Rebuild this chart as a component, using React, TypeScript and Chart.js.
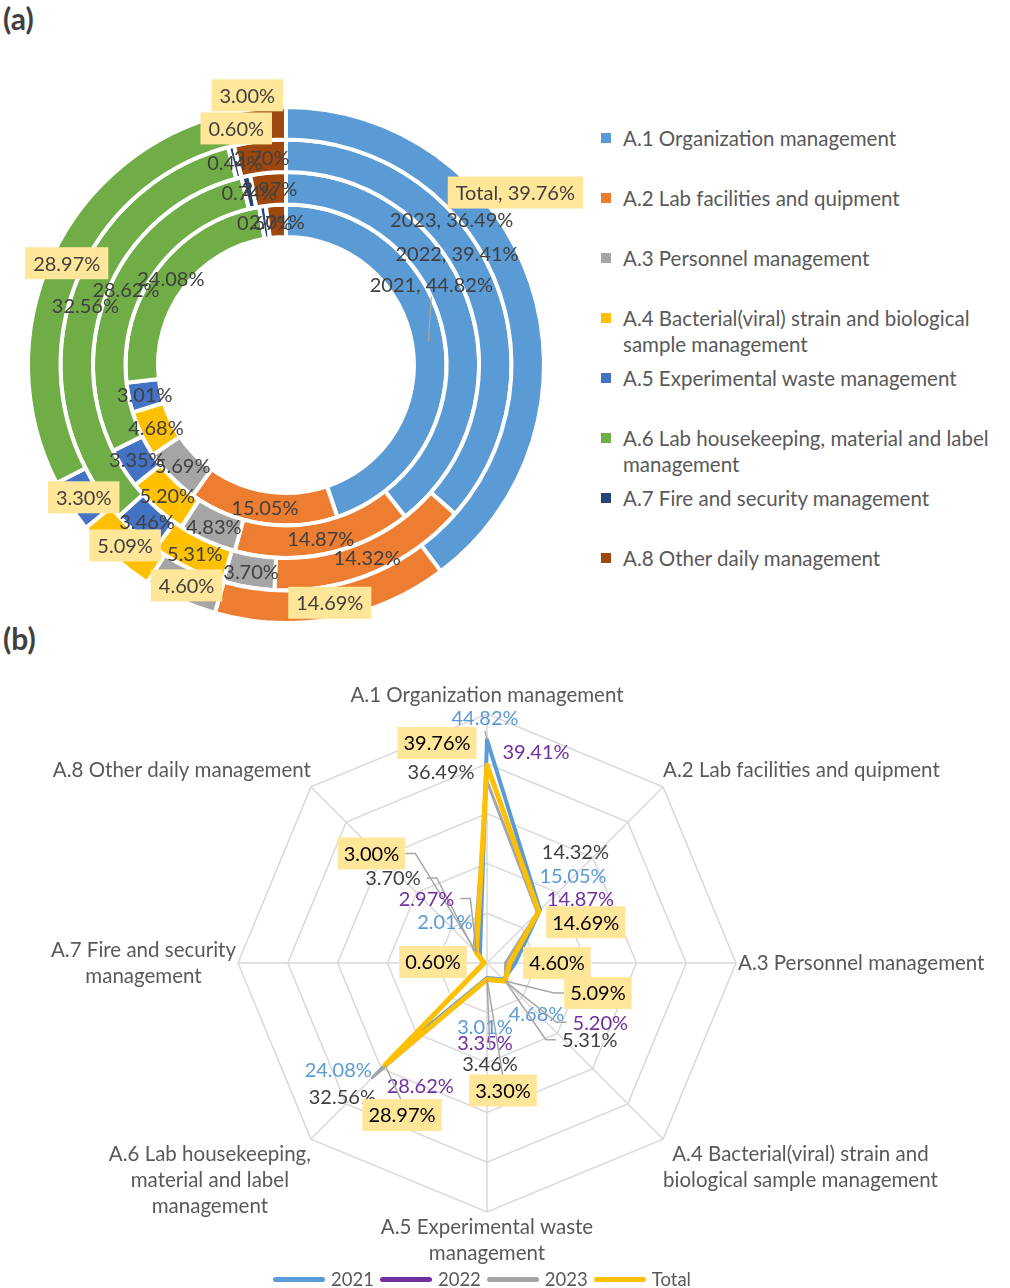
import React, { useEffect, useRef } from "react";
import { Chart, registerables } from "chart.js";

Chart.register(...registerables);

const FONT = "Lato, 'Noto Sans', sans-serif";

// ---------- data ----------
const categoryLegend = [
  ["A.1 Organization management"],
  ["A.2 Lab facilities and quipment"],
  ["A.3 Personnel management"],
  ["A.4 Bacterial(viral) strain and biological", "sample management"],
  ["A.5 Experimental waste management"],
  ["A.6 Lab housekeeping, material and label", "management"],
  ["A.7 Fire and security management"],
  ["A.8 Other daily management"],
];
const radarCategoryLabels = [
  ["A.1 Organization management"],
  ["A.2 Lab facilities and quipment"],
  ["A.3 Personnel management"],
  ["A.4 Bacterial(viral) strain and", "biological sample management"],
  ["A.5 Experimental waste", "management"],
  ["A.6 Lab housekeeping,", "material and label", "management"],
  ["A.7 Fire and security", "management"],
  ["A.8 Other daily management"],
];
const seriesNames = ["2021", "2022", "2023", "Total"];
const values2021 = [44.82, 15.05, 5.69, 4.68, 3.01, 24.08, 0.67, 2.01];
const values2022 = [39.41, 14.87, 4.83, 5.2, 3.35, 28.62, 0.74, 2.97];
const values2023 = [36.49, 14.32, 3.7, 5.31, 3.46, 32.56, 0.44, 3.7];
const valuesTotal = [39.76, 14.69, 4.6, 5.09, 3.3, 28.97, 0.6, 3.0];
const radarMax = 50;
const radarStep = 10;

// ---------- styles ----------
const sliceColors = ["#5B9BD5", "#ED7D31", "#A5A5A5", "#FFC000", "#4472C4", "#70AD47", "#264478", "#9E480E"];
const seriesColors = ["#5B9BD5", "#7030A0", "#A5A5A5", "#FFC000"];
const seriesTextColors = ["#5B9BD5", "#7030A0", "#404040", "#000000"];
const seriesLineWidths = [4, 3, 3, 5];
const BOX_FILL = "#FFE699";
const LABEL_SIZE = 20;
const CAT_SIZE = 20.5;

// doughnut label shifts (from arc centroid), key = series-index
const doughnutLabelShift: Record<string, [number, number]> = {
  "Total-0": [0, -96],
  "2023-0": [-25, -59],
  "2022-0": [4, -54],
  "2021-0": [3, -57],
  "Total-7": [-16, -29],
};

// radar value label layout: series index, category index, offset from point, leader style
type RL = { s: number; i: number; dx: number; dy: number; leader?: "h" | "v" };
const radarLabelLayout: RL[] = [
  { s: 0, i: 0, dx: -2, dy: -22, leader: "v" },
  { s: 1, i: 0, dx: 49, dy: -15 },
  { s: 3, i: 0, dx: -50, dy: -22 },
  { s: 2, i: 0, dx: -46, dy: -10 },
  { s: 2, i: 1, dx: 38, dy: -61 },
  { s: 0, i: 1, dx: 33, dy: -34 },
  { s: 1, i: 1, dx: 41, dy: -12 },
  { s: 3, i: 1, dx: 47, dy: 11 },
  { s: 3, i: 2, dx: 47, dy: 0 },
  { s: 3, i: 3, dx: 93, dy: 12, leader: "h" },
  { s: 0, i: 3, dx: 33, dy: 34 },
  { s: 1, i: 3, dx: 95, dy: 41, leader: "h" },
  { s: 2, i: 3, dx: 84, dy: 58, leader: "h" },
  { s: 0, i: 4, dx: -2, dy: 49 },
  { s: 1, i: 4, dx: -2, dy: 63 },
  { s: 2, i: 4, dx: 3, dy: 83, leader: "v" },
  { s: 3, i: 4, dx: 16, dy: 111, leader: "v" },
  { s: 0, i: 5, dx: -64, dy: 22 },
  { s: 2, i: 5, dx: -30, dy: 19 },
  { s: 1, i: 5, dx: 34, dy: 22 },
  { s: 3, i: 5, dx: 17, dy: 50, leader: "v" },
  { s: 3, i: 6, dx: -51, dy: -1 },
  { s: 3, i: 7, dx: -105, dy: -99, leader: "h" },
  { s: 2, i: 7, dx: -81, dy: -72, leader: "h" },
  { s: 1, i: 7, dx: -50, dy: -54, leader: "h" },
  { s: 0, i: 7, dx: -35, dy: -34 },
];

const fmt = (v: number) => v.toFixed(2) + "%";

function drawBoxLabel(ctx: CanvasRenderingContext2D, text: string, x: number, y: number, color: string, pad: number) {
  const w = ctx.measureText(text).width;
  ctx.fillStyle = BOX_FILL;
  ctx.fillRect(x - w / 2 - pad, y - 16, w + pad * 2, 32);
  ctx.fillStyle = color;
  ctx.fillText(text, x, y + 1);
}

const doughnutLabelPlugin = {
  id: "doughnutLabels",
  afterDatasetsDraw(chart: any) {
    const ctx: CanvasRenderingContext2D = chart.ctx;
    ctx.save();
    ctx.font = `${LABEL_SIZE}px ${FONT}`;
    ctx.textAlign = "center";
    ctx.textBaseline = "middle";
    const order = [3, 2, 1, 0];
    order.forEach((di) => {
      const ds = chart.data.datasets[di];
      const meta = chart.getDatasetMeta(di);
      meta.data.forEach((arc: any, i: number) => {
        const c = arc.tooltipPosition(false);
        const shift = doughnutLabelShift[`${ds.label}-${i}`] || [0, 0];
        const x = c.x + shift[0];
        const y = c.y + shift[1];
        const text = i === 0 ? `${ds.label}, ${fmt(ds.data[i])}` : fmt(ds.data[i]);
        if (ds.label === "2021" && i === 0) {
          ctx.strokeStyle = "#A6A6A6";
          ctx.lineWidth = 1.2;
          ctx.beginPath();
          ctx.moveTo(x, y + 12);
          ctx.lineTo(c.x, c.y);
          ctx.stroke();
        }
        if (ds.label === "Total") {
          drawBoxLabel(ctx, text, x, y, "#404040", 8);
        } else {
          ctx.fillStyle = "#404040";
          ctx.fillText(text, x, y + 1);
        }
      });
    });
    ctx.restore();
  },
};

const radarLabelPlugin = {
  id: "radarLabels",
  afterDatasetsDraw(chart: any) {
    const ctx: CanvasRenderingContext2D = chart.ctx;
    const scale = chart.scales.r;
    ctx.save();
    // category labels
    ctx.font = `${CAT_SIZE}px ${FONT}`;
    ctx.fillStyle = "#595959";
    ctx.textBaseline = "middle";
    ctx.textAlign = "center";
    const lh = 26;
    radarCategoryLabels.forEach((lines, i) => {
      const p = scale.getPointPosition(i, scale.drawingArea);
      const maxW = Math.max(...lines.map((l) => ctx.measureText(l).width));
      const n = lines.length;
      let cx = p.x;
      let top = p.y;
      if (i === 0) { cx = p.x; top = p.y - 6 - n * lh; }
      else if (i === 1) { cx = p.x + maxW / 2; top = p.y - 4 - n * lh; }
      else if (i === 2) { cx = p.x + 2 + maxW / 2; top = p.y - (n * lh) / 2; }
      else if (i === 3) { cx = p.x + maxW / 2; top = p.y + 2; }
      else if (i === 4) { cx = p.x; top = p.y + 2; }
      else if (i === 5) { cx = p.x - maxW / 2; top = p.y + 2; }
      else if (i === 6) { cx = p.x - 2 - maxW / 2; top = p.y - (n * lh) / 2; }
      else { cx = p.x - maxW / 2; top = p.y - 4 - n * lh; }
      lines.forEach((l, k) => ctx.fillText(l, cx, top + lh / 2 + k * lh));
    });
    // value labels
    ctx.font = `${LABEL_SIZE}px ${FONT}`;
    radarLabelLayout.forEach((L) => {
      const meta = chart.getDatasetMeta(L.s);
      const pt = meta.data[L.i];
      const val = chart.data.datasets[L.s].data[L.i];
      const text = fmt(val);
      const x = pt.x + L.dx;
      const y = pt.y + L.dy;
      const w = ctx.measureText(text).width;
      if (L.leader) {
        ctx.strokeStyle = "#A6A6A6";
        ctx.lineWidth = 1.5;
        ctx.beginPath();
        if (L.leader === "h") {
          const sx = L.dx < 0 ? x + w / 2 + 6 : x - w / 2 - 6;
          const ex = L.dx < 0 ? sx + 10 : sx - 10;
          ctx.moveTo(sx, y);
          ctx.lineTo(ex, y);
          ctx.lineTo(pt.x, pt.y);
        } else {
          const sy = L.dy < 0 ? y + 13 : y - 13;
          ctx.moveTo(x, sy);
          ctx.lineTo(pt.x, pt.y);
        }
        ctx.stroke();
      }
      if (L.s === 3) {
        drawBoxLabel(ctx, text, x, y, "#000000", 6);
      } else {
        ctx.fillStyle = seriesTextColors[L.s];
        ctx.fillText(text, x, y + 1);
      }
    });
    ctx.restore();
  },
};

function DoughnutChart() {
  const ref = useRef<HTMLCanvasElement>(null);
  useEffect(() => {
    if (!ref.current) return;
    const rings = [
      { label: "Total", data: valuesTotal },
      { label: "2023", data: values2023 },
      { label: "2022", data: values2022 },
      { label: "2021", data: values2021 },
    ];
    const chart = new Chart(ref.current, {
      type: "doughnut",
      data: {
        labels: categoryLegend.map((l) => l.join(" ")),
        datasets: rings.map((r) => ({
          label: r.label,
          data: r.data,
          backgroundColor: sliceColors,
          borderColor: "#FFFFFF",
          borderWidth: 4,
          hoverOffset: 0,
          offset: 0,
        })),
      },
      options: {
        responsive: false,
        animation: false,
        events: [],
        cutout: "49.6%",
        layout: { padding: { left: 26, top: 105, right: 44, bottom: 15 } },
        plugins: { legend: { display: false }, tooltip: { enabled: false } },
      },
      plugins: [doughnutLabelPlugin],
    });
    return () => chart.destroy();
  }, []);
  return <canvas ref={ref} width={590} height={640} style={{ position: "absolute", left: 0, top: 0 }} />;
}

function RadarChart() {
  const ref = useRef<HTMLCanvasElement>(null);
  useEffect(() => {
    if (!ref.current) return;
    const series = [values2021, values2022, values2023, valuesTotal];
    const drawOrder = [1, 3, 2, 0];
    const chart = new Chart(ref.current, {
      type: "radar",
      data: {
        labels: radarCategoryLabels.map((l) => l.join(" ")),
        datasets: series.map((d, k) => ({
          label: seriesNames[k],
          data: d,
          borderColor: seriesColors[k],
          backgroundColor: "transparent",
          borderWidth: seriesLineWidths[k],
          borderJoinStyle: "round" as const,
          pointRadius: 0,
          fill: false,
          order: drawOrder[k],
        })),
      },
      options: {
        responsive: false,
        animation: false,
        events: [],
        layout: { padding: { left: 238, right: 274, top: 74, bottom: 76 } },
        plugins: { legend: { display: false }, tooltip: { enabled: false } },
        scales: {
          r: {
            min: 0,
            max: radarMax,
            ticks: { display: false, stepSize: radarStep },
            grid: { color: "#D9D9D9", lineWidth: 1.5 },
            angleLines: { color: "#D9D9D9", lineWidth: 1.5 },
            pointLabels: { display: false },
          },
        },
      },
      plugins: [radarLabelPlugin],
    });
    return () => chart.destroy();
  }, []);
  return <canvas ref={ref} width={1010} height={648} style={{ position: "absolute", left: 0, top: 640 }} />;
}

export default function App() {
  return (
    <div style={{ position: "absolute", left: 0, top: 0, width: 1010, height: 1288, background: "#fff", fontFamily: FONT, overflow: "hidden" }}>
      <div style={{ position: "absolute", left: 3, top: 0, fontSize: 30, fontWeight: 700, color: "#404040", lineHeight: "36px" }}>(a)</div>
      <div style={{ position: "absolute", left: 3, top: 620, fontSize: 30, fontWeight: 700, color: "#404040", lineHeight: "36px" }}>(b)</div>
      <DoughnutChart />
      <div style={{ position: "absolute", left: 601, top: 125, width: 409 }}>
        {categoryLegend.map((lines, i) => (
          <div key={i} style={{ height: 60, display: "flex", alignItems: "flex-start" }}>
            <div style={{ width: 10, height: 10, background: sliceColors[i], marginTop: 8, marginRight: 12, flex: "0 0 auto" }} />
            <div style={{ fontSize: CAT_SIZE, lineHeight: "26px", color: "#595959", whiteSpace: "nowrap" }}>
              {lines.map((l, k) => (
                <div key={k}>{l}</div>
              ))}
            </div>
          </div>
        ))}
      </div>
      <RadarChart />
      <div style={{ position: "absolute", left: 273, top: 1268, height: 22, display: "flex", alignItems: "center" }}>
        {seriesNames.map((n, k) => (
          <div key={k} style={{ display: "flex", alignItems: "center", marginRight: 6 }}>
            <div style={{ width: 52, height: 5, borderRadius: 3, background: seriesColors[k], marginRight: 6 }} />
            <div style={{ fontSize: 18.5, lineHeight: "22px", color: "#595959" }}>{n}</div>
          </div>
        ))}
      </div>
    </div>
  );
}
